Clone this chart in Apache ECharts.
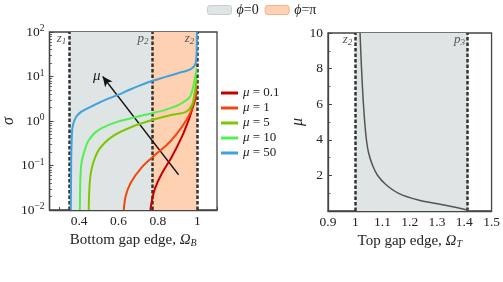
<!DOCTYPE html>
<html><head><meta charset="utf-8">
<script src="https://cdn.jsdelivr.net/npm/echarts@6/dist/echarts.min.js"></script>
<style>html,body{margin:0;padding:0;background:#fff}#c{width:503px;height:282px}</style>
</head><body><div id="c"></div>
<script>
// ---------- data ----------
const muNames = ['μ = 0.1', 'μ = 1', 'μ = 5', 'μ = 10', 'μ = 50'];
const muColors = ['#c40000', '#f0480c', '#7cc800', '#50f050', '#3ea2dc'];
// [Omega_B, sigma]
const curveMu01 = [[0.762,0.01],[0.77,0.0166],[0.786,0.031],[0.82,0.066],[0.871,0.158],[0.922,0.447],[0.956,1.05],[0.973,1.78],[0.99,3.16],[0.996,5.0]];
const curveMu1 = [[0.627,0.01],[0.636,0.02],[0.661,0.04],[0.72,0.093],[0.786,0.174],[0.854,0.316],[0.922,0.741],[0.963,1.48],[0.988,3.24],[0.996,5.5]];
const curveMu5 = [[0.449,0.01],[0.454,0.04],[0.466,0.093],[0.50,0.224],[0.568,0.447],[0.669,0.741],[0.77,1.05],[0.872,1.38],[0.94,1.58],[0.973,2.29],[0.988,4.57],[0.997,9.1]];
const curveMu10 = [[0.404,0.01],[0.405,0.025],[0.407,0.056],[0.412,0.112],[0.424,0.19],[0.449,0.37],[0.50,0.63],[0.601,0.98],[0.736,1.38],[0.838,1.78],[0.905,2.29],[0.963,3.55],[0.988,9.1],[0.997,15.5]];
const curveMu50 = [[0.358,0.01],[0.359,0.03],[0.36,0.13],[0.362,0.32],[0.365,0.63],[0.37,0.85],[0.38,1.12],[0.39,1.32],[0.41,1.6],[0.43,1.8],[0.47,2.2],[0.53,2.95],[0.6,3.9],[0.65,4.9],[0.71,6.3],[0.77,7.9],[0.84,9.8],[0.905,12],[0.95,13.6],[0.975,15.5],[0.99,19],[0.995,25],[0.997,40],[0.998,100]];
// [Omega_T, mu]
const curveTop = [[1.0175,10],[1.023,8],[1.030,6],[1.039,4.27],[1.048,3.33],[1.063,2.58],[1.081,2.02],[1.111,1.5],[1.159,0.99],[1.231,0.62],[1.326,0.34],[1.41,0.06],[1.416,0]];
// special frequencies
const z1 = 0.35, p2 = 0.767, z2 = 1.0, p3 = 1.414;
// arrow (Omega_B, sigma) start -> end
const arrowFrom = [0.905, 0.062], arrowTo = [0.52, 10];
// tick lists
const leftXTicks = [0.3,0.4,0.5,0.6,0.7,0.8,0.9,1.0,1.1];
const leftXLabels = [0.4,0.6,0.8,1];
const leftYMinor = [0.02,0.03,0.04,0.05,0.06,0.07,0.08,0.09,0.2,0.3,0.4,0.5,0.6,0.7,0.8,0.9,2,3,4,5,6,7,8,9,20,30,40,50,60,70,80,90];
const rightXTicks = [0.9,1.0,1.1,1.2,1.3,1.4,1.5];
const rightYLabels = [2,4,6,8,10];
const rightYMinor = [1,3,5,7,9];

const FONT = 'Liberation Serif';
const AX = '#444';
const greyFill = '#dfe4e4', orangeFill = '#fdd1b2';
const dashStyle = {color:'#333', width:2.5, type:[3.5,2]};
const richZ = {i:{fontFamily:FONT, fontStyle:'italic', fontSize:13, color:'#555'}, s:{fontFamily:FONT, fontStyle:'italic', fontSize:9, color:'#555', verticalAlign:'bottom', padding:[6,0,0,0]}};

function tag(letter, sub, x, y) {
  return {coord:[x, y], symbolSize:0, label:{show:true, position:'left', distance:3, formatter:'{i|'+letter+'}{s|'+sub+'}', rich:richZ}};
}

const chart = echarts.init(document.getElementById('c'));
const lineSeries = [curveMu01, curveMu1, curveMu5, curveMu10, curveMu50].map((d, k) => ({
  name: muNames[k], type:'line', xAxisIndex:0, yAxisIndex:0, data:d, showSymbol:false, smooth:0.3,
  lineStyle:{width:2, color:muColors[k]}, itemStyle:{color:muColors[k]}, z:5, clip:true
}));
const nameRich = {n:{fontFamily:FONT, fontSize:15, color:'#222'}, i:{fontFamily:FONT, fontSize:15, fontStyle:'italic', color:'#222'}, s:{fontFamily:FONT, fontSize:10, fontStyle:'italic', color:'#222', verticalAlign:'bottom', padding:[6,0,0,0]}};

chart.setOption({
  animation:false,
  textStyle:{fontFamily:FONT},
  legend:[{
    data:[{name:'ϕ=0', itemStyle:{color:greyFill, borderColor:'#c9cfcf', borderWidth:1}},
          {name:'ϕ=π', itemStyle:{color:orangeFill, borderColor:'#f0b48c', borderWidth:1}}],
    left:207, top:3, padding:0, icon:'roundRect', itemWidth:24, itemHeight:9, itemGap:6,
    selectedMode:false,
    formatter: n => '{i|ϕ}{n|' + n.slice(1) + '}',
    textStyle:{fontFamily:FONT, fontSize:14, color:'#222', rich:{i:{fontFamily:FONT, fontStyle:'italic', fontSize:14}, n:{fontFamily:FONT, fontSize:14}}}
  },{
    data: muNames, orient:'vertical', left:221, top:86, padding:0, icon:'rect', itemWidth:17, itemHeight:3, itemGap:1,
    selectedMode:false,
    formatter: n => '{i|μ}{n|' + n.slice(1) + '}',
    textStyle:{fontFamily:FONT, fontSize:13, color:'#222', lineHeight:14, rich:{i:{fontFamily:FONT, fontStyle:'italic', fontSize:13}, n:{fontFamily:FONT, fontSize:13}}}
  }],
  grid:[
    {left:49, top:32, width:168, height:178, show:true, borderColor:AX, borderWidth:1.3, backgroundColor:'transparent'},
    {left:328, top:33, width:167, height:178, show:true, borderColor:AX, borderWidth:1.3, backgroundColor:'transparent'}
  ],
  xAxis:[
    {gridIndex:0, type:'value', min:0.25, max:1.1,
     name:'{n|Bottom gap edge, }{i|Ω}{s|B}', nameLocation:'middle', nameGap:21,
     nameTextStyle:{rich:nameRich},
     axisLine:{lineStyle:{color:AX, width:1.3}},
     axisTick:{inside:true, length:3, customValues:leftXTicks, lineStyle:{color:AX}},
     axisLabel:{customValues:leftXLabels, margin:4, fontFamily:FONT, fontSize:13.5, color:'#222', formatter:v => (v===1?'1':String(v))},
     splitLine:{show:false}},
    {gridIndex:1, type:'value', min:0.9, max:1.5,
     name:'{n|Top gap edge, }{i|Ω}{s|T}', nameLocation:'middle', nameGap:21,
     nameTextStyle:{rich:nameRich},
     axisLine:{lineStyle:{color:AX, width:1.3}},
     axisTick:{inside:true, length:3, customValues:rightXTicks, lineStyle:{color:AX}},
     axisLabel:{customValues:rightXTicks, margin:4, fontFamily:FONT, fontSize:13.5, color:'#222', formatter:v => (Math.abs(v-1)<1e-9?'1':v.toFixed(1))},
     splitLine:{show:false}}
  ],
  yAxis:[
    {gridIndex:0, type:'log', logBase:10, min:0.01, max:100, position:'left',
     name:'σ', nameLocation:'middle', nameGap:32, nameRotate:90,
     nameTextStyle:{fontFamily:FONT, fontSize:16, fontStyle:'italic', color:'#222'},
     axisLine:{lineStyle:{color:AX, width:1.3}},
     axisTick:{inside:true, length:4, lineStyle:{color:AX}},
     axisLabel:{margin:5, fontFamily:FONT, fontSize:13.5, color:'#222',
       formatter: v => { const e = Math.round(Math.log10(v)); return '{b|10}{s|' + (e<0?'−'+(-e):e) + '}'; },
       rich:{b:{fontFamily:FONT, fontSize:13.5, color:'#222'}, s:{fontFamily:FONT, fontSize:9.5, color:'#222', verticalAlign:'top', padding:[0,0,7,0]}}},
     splitLine:{show:false}},
    {gridIndex:0, type:'log', logBase:10, min:0.01, max:100, position:'left',
     axisLine:{show:false}, axisLabel:{show:false}, splitLine:{show:false},
     axisTick:{inside:true, length:2.5, customValues:leftYMinor, lineStyle:{color:AX, width:0.8}}},
    {gridIndex:1, type:'value', min:0, max:10, position:'left',
     name:'μ', nameLocation:'middle', nameGap:22, nameRotate:90,
     nameTextStyle:{fontFamily:FONT, fontSize:16, fontStyle:'italic', color:'#222'},
     axisLine:{lineStyle:{color:AX, width:1.3}},
     axisTick:{inside:true, length:4, customValues:rightYLabels, lineStyle:{color:AX}},
     axisLabel:{customValues:rightYLabels, margin:5, fontFamily:FONT, fontSize:13.5, color:'#222'},
     splitLine:{show:false}},
    {gridIndex:1, type:'value', min:0, max:10, position:'left',
     axisLine:{show:false}, axisLabel:{show:false}, splitLine:{show:false},
     axisTick:{inside:true, length:2.5, customValues:rightYMinor, lineStyle:{color:AX, width:0.8}}}
  ],
  series:[
    {name:'ϕ=0', type:'line', xAxisIndex:0, yAxisIndex:0, data:[], itemStyle:{color:greyFill},
     markArea:{silent:true, itemStyle:{color:greyFill}, data:[[{xAxis:z1},{xAxis:p2}]]}, z:1},
    {name:'ϕ=π', type:'line', xAxisIndex:0, yAxisIndex:0, data:[], itemStyle:{color:orangeFill},
     markArea:{silent:true, itemStyle:{color:orangeFill}, data:[[{xAxis:p2},{xAxis:z2}]]}, z:1},
    {name:'rightfill', type:'line', xAxisIndex:1, yAxisIndex:2, data:[],
     markArea:{silent:true, itemStyle:{color:greyFill}, data:[[{xAxis:z2},{xAxis:p3}]]}, z:1},
    {name:'dashL', type:'line', xAxisIndex:0, yAxisIndex:0, data:[], z:3,
     markLine:{silent:true, symbol:['none','none'], label:{show:false}, lineStyle:dashStyle,
       data:[{xAxis:z1},{xAxis:p2},{xAxis:z2}]},
     markPoint:{silent:true, data:[tag('z','1',z1,72), tag('p','2',p2,72), tag('z','2',z2,72)]}},
    {name:'dashR', type:'line', xAxisIndex:1, yAxisIndex:2, data:[], z:3,
     markLine:{silent:true, symbol:['none','none'], label:{show:false}, lineStyle:dashStyle,
       data:[{xAxis:z2},{xAxis:p3}]},
     markPoint:{silent:true, data:[tag('z','2',z2,9.65), tag('p','3',p3,9.65)]}},
    ...lineSeries,
    {name:'arrow', type:'line', xAxisIndex:0, yAxisIndex:0, data:[], z:6,
     markLine:{silent:true, symbol:['none','arrow'], symbolSize:[7,10], label:{show:false},
       lineStyle:{color:'#111', width:1.3, type:'solid'},
       data:[[{coord:arrowFrom},{coord:arrowTo}]]},
     markPoint:{silent:true, data:[{coord:[0.49, 10.4], symbolSize:0,
       label:{show:true, position:'inside', formatter:'μ', fontFamily:FONT, fontStyle:'italic', fontSize:15, color:'#222'}}]}},
    {name:'top', type:'line', xAxisIndex:1, yAxisIndex:2, data:curveTop, showSymbol:false, smooth:0.3,
     lineStyle:{color:'#555', width:1.5}, z:5}
  ]
});
</script></body></html>
